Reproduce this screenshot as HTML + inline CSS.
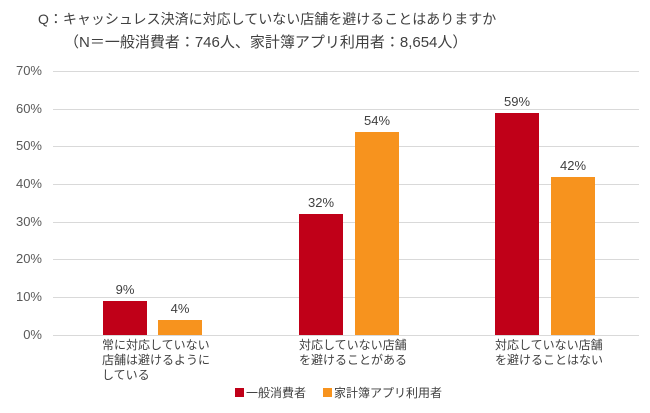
<!DOCTYPE html>
<html><head><meta charset="utf-8"><style>
body{margin:0;width:650px;height:413px;background:#fff;font-family:"Liberation Sans","Noto Sans CJK JP",sans-serif;color:#404040;position:relative;overflow:hidden}
.a{position:absolute;white-space:nowrap}
.g{position:absolute;left:53px;width:586px;height:1px;background:#d9d9d9}
.yl{position:absolute;left:0;width:42px;text-align:right;font-size:13px;color:#595959}
.b{position:absolute;width:44px}
.r{background:#c00018}.o{background:#f7931e}
.v{position:absolute;width:60px;text-align:center;font-size:13px;color:#404040}
.c{position:absolute;font-size:12px;line-height:15px;color:#404040}
</style></head><body>
<div class="a" style="left:38px;top:9px;font-size:14px">Q：キャッシュレス決済に対応していない店舗を避けることはありますか</div>
<div class="a" style="left:64px;top:31px;font-size:15px">（N＝一般消費者：746人、家計簿アプリ利用者：8,654人）</div>

<div class="g" style="top:71px"></div><div class="yl" style="top:63px">70%</div>
<div class="g" style="top:109px"></div><div class="yl" style="top:101px">60%</div>
<div class="g" style="top:146px"></div><div class="yl" style="top:138px">50%</div>
<div class="g" style="top:184px"></div><div class="yl" style="top:176px">40%</div>
<div class="g" style="top:222px"></div><div class="yl" style="top:214px">30%</div>
<div class="g" style="top:259px"></div><div class="yl" style="top:251px">20%</div>
<div class="g" style="top:297px"></div><div class="yl" style="top:289px">10%</div>
<div class="g" style="top:335px"></div><div class="yl" style="top:327px">0%</div>

<div class="b r" style="left:103px;top:301px;height:34px"></div><div class="v" style="left:95px;top:282px">9%</div>
<div class="b o" style="left:158px;top:320px;height:15px"></div><div class="v" style="left:150px;top:301px">4%</div>
<div class="b r" style="left:299px;top:214px;height:121px"></div><div class="v" style="left:291px;top:195px">32%</div>
<div class="b o" style="left:355px;top:132px;height:203px"></div><div class="v" style="left:347px;top:113px">54%</div>
<div class="b r" style="left:495px;top:113px;height:222px"></div><div class="v" style="left:487px;top:94px">59%</div>
<div class="b o" style="left:551px;top:177px;height:158px"></div><div class="v" style="left:543px;top:158px">42%</div>

<div class="c" style="left:102px;top:338px">常に対応していない<br>店舗は避けるように<br>している</div>
<div class="c" style="left:299px;top:338px">対応していない店舗<br>を避けることがある</div>
<div class="c" style="left:495px;top:338px">対応していない店舗<br>を避けることはない</div>

<div class="a" style="left:235px;top:388px;width:9px;height:9px;background:#c00018"></div>
<div class="a" style="left:246px;top:384px;font-size:12px">一般消費者</div>
<div class="a" style="left:323px;top:388px;width:9px;height:9px;background:#f7931e"></div>
<div class="a" style="left:334px;top:384px;font-size:12px">家計簿アプリ利用者</div>
</body></html>
